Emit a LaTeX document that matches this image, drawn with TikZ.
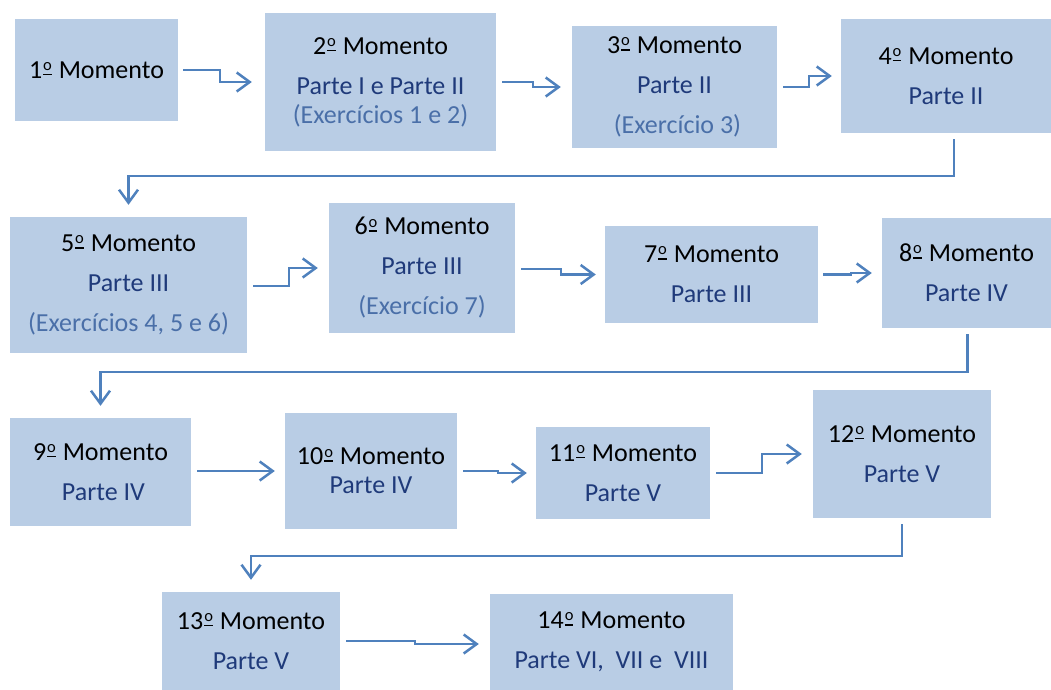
\documentclass[tikz,border=0pt]{standalone}
\usepackage{fontspec}
\setmainfont{Carlito}
\usetikzlibrary{arrows.meta,calc}
\definecolor{boxfill}{HTML}{B9CDE5}
\definecolor{linecol}{HTML}{4F81BD}
\definecolor{partecol}{HTML}{1F3A7A}
\definecolor{execol}{HTML}{4A6FA8}
\newcommand{\pt}[1]{\textcolor{partecol}{#1}}
\newcommand{\ex}[1]{\textcolor{execol}{#1}}
\newcommand{\om}{\kern1pt\rlap{\rule[3pt]{8.6pt}{1.5pt}}\raisebox{7.8pt}{\fontsize{16.5}{16.5}\selectfont o}\kern1pt}
\begin{document}
\begin{tikzpicture}[x=1pt,y=-1pt,
  mbox/.style={rectangle,fill=boxfill,draw=none,inner sep=0pt,align=center,
    font=\fontsize{26}{40}\selectfont},
  conn/.style={draw=linecol,line width=2.5pt,
    -{Straight Barb[length=13pt,width=19pt,line width=2.5pt]}}]
\useasboundingbox (0,0) rectangle (1051,689);
\fill[white] (0,0) rectangle (1051,689);
% boxes
\node[mbox,minimum width=163pt,minimum height=102pt] (b1) at (96.5,70) {1\om{} Momento};
\node[mbox,minimum width=231pt,minimum height=138pt] (b2) at (380.5,82) {2\om{} Momento\\\pt{Parte I e Parte II}\\[-11pt]\ex{(Exercícios 1 e 2)}};
\node[mbox,minimum width=205pt,minimum height=122pt] (b3) at (674.5,87) {3\om{} Momento\\\pt{Parte II}\\\ex{\ (Exercício 3)}};
\node[mbox,minimum width=210pt,minimum height=114pt] (b4) at (946,76) {4\om{} Momento\\\pt{Parte II}};
\node[mbox,minimum width=237pt,minimum height=136pt] (b5) at (128.5,285) {5\om{} Momento\\\pt{Parte III}\\\ex{(Exercícios 4, 5 e 6)}};
\node[mbox,minimum width=186pt,minimum height=130pt] (b6) at (422,268) {6\om{} Momento\\\pt{Parte III}\\\ex{(Exercício 7)}};
\node[mbox,minimum width=213pt,minimum height=97pt] (b7) at (711.5,274.5) {7\om{} Momento\\\pt{Parte III}};
\node[mbox,minimum width=169pt,minimum height=110pt] (b8) at (966.5,273) {8\om{} Momento\\\pt{Parte IV}};
\node[mbox,minimum width=181pt,minimum height=108pt] (b9) at (100.5,472) {9\om{} Momento\\\pt{\ Parte IV}};
\node[mbox,minimum width=172pt,minimum height=116pt] (b10) at (371,471) {10\om{} Momento\\[-11pt]\pt{Parte IV}};
\node[mbox,minimum width=174pt,minimum height=92pt] (b11) at (623,473) {11\om{} Momento\\\pt{Parte V}};
\node[mbox,minimum width=178pt,minimum height=128pt] (b12) at (902,454) {12\om{} Momento\\\pt{Parte V}};
\node[mbox,minimum width=178pt,minimum height=98pt] (b13) at (251,641) {13\om{} Momento\\\pt{Parte V}};
\node[mbox,minimum width=243pt,minimum height=96pt] (b14) at (611.5,642) {14\om{} Momento\\\pt{Parte VI,\ \ VII e\ \ VIII}};
% connectors
\draw[conn] ($(b1.east)+(5,0)$) -- ++(37,0) |- ($(b2.west)+(-13,0)$);
\draw[conn] ($(b2.east)+(6,0)$) -- ++(31,0) |- ($(b3.west)+(-11,0)$);
\draw[conn] ($(b3.east)+(6,0)$) -- ++(26,0) |- ($(b4.west)+(-9,0)$);
\draw[conn] ($(b4.south)+(8,6)$) -- ++(0,37) -| ($(b5.north)+(0,-12)$);
\draw[conn] ($(b5.east)+(6,1)$) -- ++(36,0) |- ($(b6.west)+(-11,0)$);
\draw[conn] ($(b6.east)+(6,1)$) -- ++(40,0) |- ($(b7.west)+(-9,0)$);
\draw[conn] ($(b7.east)+(5,0)$) -- ++(28,0) |- ($(b8.west)+(-10,0)$);
\draw[conn] ($(b8.south)+(1,6)$) -- ++(0,38) -| ($(b9.north)+(0,-12)$);
\draw[conn] ($(b9.east)+(6,-1)$) -- ($(b10.west)+(-10,0)$);
\draw[conn] ($(b10.east)+(6,0)$) -- ++(35,0) |- ($(b11.west)+(-9,0)$);
\draw[conn] ($(b11.east)+(6,0)$) -- ++(46,0) |- ($(b12.west)+(-11,0)$);
\draw[conn] ($(b12.south)+(0,6)$) -- ++(0,32) -| ($(b13.north)+(0,-12)$);
\draw[conn] ($(b13.east)+(6,0)$) -- ++(69,0) |- ($(b14.west)+(-11,2)$);
\end{tikzpicture}
\end{document}
